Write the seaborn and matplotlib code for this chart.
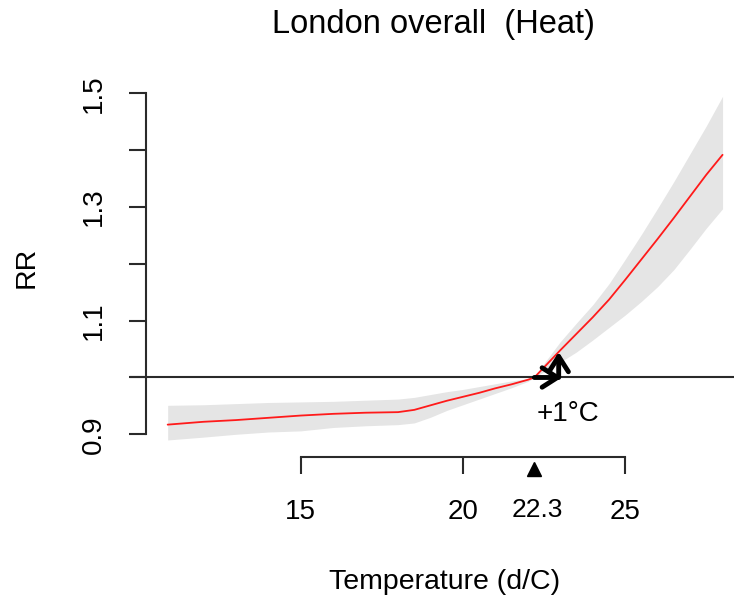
import pandas as pd
import seaborn as sns
import matplotlib.pyplot as plt

# exposure-response curve
temps = [10.9, 12, 13, 14, 15, 16, 17, 18, 18.5, 19, 19.5, 20, 20.5, 21, 21.5,
         22, 22.2, 22.5, 23, 23.5, 24, 24.5, 25, 25.5, 26, 26.5, 27, 27.5, 28]
rr = [0.917, 0.922, 0.925, 0.929, 0.933, 0.936, 0.938, 0.939, 0.943, 0.951, 0.959,
      0.966, 0.973, 0.981, 0.988, 0.996, 1.0, 1.018, 1.048, 1.077, 1.106, 1.137,
      1.172, 1.208, 1.244, 1.281, 1.319, 1.357, 1.392]
rr_high = [0.951, 0.952, 0.954, 0.956, 0.957, 0.958, 0.960, 0.962, 0.965, 0.970, 0.975,
           0.979, 0.984, 0.989, 0.994, 0.998, 1.0, 1.025, 1.063, 1.096, 1.128, 1.165,
           1.208, 1.252, 1.298, 1.345, 1.394, 1.443, 1.495]
rr_low = [0.890, 0.895, 0.900, 0.904, 0.906, 0.912, 0.915, 0.917, 0.920, 0.930, 0.942,
          0.952, 0.962, 0.972, 0.982, 0.993, 1.0, 1.010, 1.027, 1.045, 1.066, 1.088,
          1.110, 1.134, 1.160, 1.190, 1.226, 1.263, 1.297]

x_ticks = [15, 20, 25]
y_ticks = [0.9, 1.1, 1.3, 1.5]
y_minor = [1.0, 1.2, 1.4]
mmt = 22.2
mmt_label = "22.3"
arrow_end = 23.05
arrow_v_x = 22.95
arrow_v_top = 1.045

df = pd.DataFrame({'Temperature': temps, 'RR': rr})

sns.set_theme(style='white')
plt.rcParams['font.family'] = ['Liberation Sans', 'DejaVu Sans']
plt.rcParams['text.color'] = 'black'

fig = plt.figure(figsize=(7.34, 6.01), dpi=100)
ax = fig.add_axes([0, 0, 1, 1])
ax.patch.set_alpha(0)

ax.fill_between(temps, rr_low, rr_high, color='#e5e5e5', lw=0)
sns.lineplot(data=df, x='Temperature', y='RR', color='#ff1a1a', lw=1.3, ax=ax)

ax.set_xlim(5.733, 28.353)
ax.set_ylim(0.6065, 1.6646)

axis_col = '#2a2a2a'
ax.plot([9.74, 28.353], [1.0, 1.0], color=axis_col, lw=1.5, clip_on=False)

for s in ['top', 'right']:
    ax.spines[s].set_visible(False)
ax.spines['left'].set_position(('data', 10.233))
ax.spines['left'].set_bounds(0.9, 1.5)
ax.spines['bottom'].set_position(('data', 0.860))
ax.spines['bottom'].set_bounds(15, 25)
for s in ['left', 'bottom']:
    ax.spines[s].set_color(axis_col)
    ax.spines[s].set_linewidth(1.5)

ax.set_xticks(x_ticks)
ax.set_xticklabels([str(t) for t in x_ticks])
ax.set_yticks(y_ticks + y_minor)
ax.set_yticklabels([f'{v:.1f}' if v in y_ticks else '' for v in y_ticks + y_minor])
ax.tick_params(axis='both', direction='out', length=12, width=1.5, color=axis_col,
               labelsize=20, labelcolor='black', left=True, bottom=True)
ax.tick_params(axis='x', pad=18)
ax.tick_params(axis='y', pad=16)
for lab in ax.get_yticklabels():
    lab.set_rotation(90)
    lab.set_va('center')
ax.set_xlabel('')
ax.set_ylabel('')

# MMT marker
ax.plot([mmt], [0.839], marker='^', color='black', markersize=10, clip_on=False)
ax.text(22.3, 0.7667, mmt_label, ha='center', va='center', fontsize=19,
        color='black', family=['Liberation Sans Narrow', 'Liberation Sans'])

# +1 degree arrows
head = '->,head_length=0.55,head_width=0.35'
ax.annotate('', xy=(arrow_end, 1.0), xytext=(mmt, 1.0),
            arrowprops=dict(arrowstyle=head, lw=3.5, color='black',
                            shrinkA=0, shrinkB=0, mutation_scale=20))
ax.annotate('', xy=(arrow_v_x, arrow_v_top), xytext=(arrow_v_x, 1.0),
            arrowprops=dict(arrowstyle=head, lw=3.5, color='black',
                            shrinkA=0, shrinkB=0, mutation_scale=20))
ax.text(23.24, 0.935, '+1°C', ha='center', va='center', fontsize=20, color='black')

fig.text(433 / 734, 1 - 25 / 601, 'London overall  (Heat)', ha='center', va='center',
         fontsize=23.5, color='black')
fig.text(27 / 734, 1 - 267 / 601, 'RR', ha='center', va='center', rotation=90,
         fontsize=20.5, color='black')
fig.text(445 / 734, 1 - 582 / 601, 'Temperature (d/C)', ha='center', va='center',
         fontsize=20.5, color='black')

plt.savefig('out.png', dpi=100)
